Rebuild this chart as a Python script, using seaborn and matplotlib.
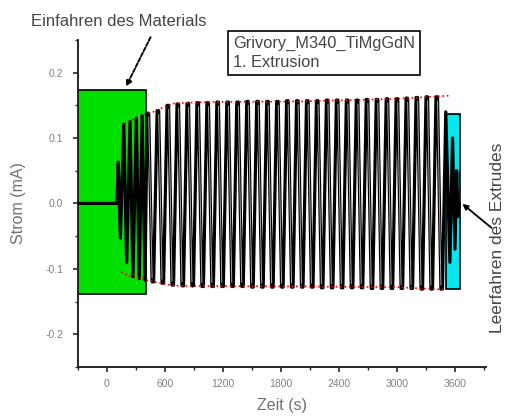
import numpy as np
import matplotlib
matplotlib.use('Agg')
import matplotlib.pyplot as plt
from matplotlib.patches import Rectangle
from matplotlib.ticker import MultipleLocator, FormatStrFormatter
import seaborn as sns

t_start = [-300, 105, 118, 140, 175, 205, 240, 270, 305, 335, 365, 395]
v_start = [0.0, 0.0, 0.063, -0.053, 0.121, -0.09, 0.125, -0.112, 0.131, -0.115, 0.134, -0.117]

t_peak = [425, 528, 631, 734, 837, 940, 1043, 1146, 1249, 1352, 1455, 1558, 1661, 1764, 1867,
          1970, 2073, 2176, 2279, 2382, 2485, 2588, 2691, 2794, 2897, 3000, 3103, 3206, 3309, 3412]
v_peak = [0.138, 0.142, 0.150, 0.152, 0.153, 0.154, 0.154, 0.155, 0.155, 0.155, 0.156, 0.156, 0.156, 0.156, 0.157,
          0.157, 0.157, 0.157, 0.158, 0.158, 0.158, 0.158, 0.159, 0.159, 0.160, 0.160, 0.161, 0.162, 0.163, 0.163]
t_trough = [476, 579, 682, 785, 888, 991, 1094, 1197, 1300, 1403, 1506, 1609, 1712, 1815, 1918,
            2021, 2124, 2227, 2330, 2433, 2536, 2639, 2742, 2845, 2948, 3051, 3154, 3257, 3360, 3463]
v_trough = [-0.120, -0.122, -0.125, -0.126, -0.126, -0.127, -0.127, -0.127, -0.127, -0.127, -0.128, -0.128, -0.128, -0.128, -0.128,
            -0.128, -0.128, -0.129, -0.129, -0.129, -0.129, -0.129, -0.130, -0.130, -0.130, -0.130, -0.130, -0.131, -0.131, -0.131]

# Leerfahren (Ausklingen)
t_end = [3505, 3548, 3575, 3600, 3618, 3632, 3645]
v_end = [0.14, -0.09, 0.10, -0.07, 0.05, -0.02, 0.0]

# Huellkurven (rot gepunktet)
t_env_top = [180, 270, 375, 480, 600, 700, 1000, 2000, 3000, 3350, 3560]
v_env_top = [0.122, 0.128, 0.136, 0.140, 0.148, 0.153, 0.155, 0.156, 0.160, 0.163, 0.165]
t_env_bot = [150, 250, 400, 550, 700, 2000, 3000, 3500]
v_env_bot = [-0.105, -0.112, -0.117, -0.122, -0.126, -0.127, -0.128, -0.132]

# Markierte Bereiche: (t0, t1, y0, y1)
green_box = (-300, 400, -0.138, 0.174)
cyan_box = (3505, 3650, -0.131, 0.137)

HOLD = 16  # Breite der Spitzen (Darstellung)

# Zeitreihe zusammensetzen
t_main, v_main = [], []
for tp, vp, tt, vt in zip(t_peak, v_peak, t_trough, v_trough):
    t_main += [tp - HOLD / 2, tp + HOLD / 2, tt - HOLD / 2, tt + HOLD / 2]
    v_main += [vp, vp, vt, vt]
t_all = np.array(t_start + t_main + t_end, dtype=float)
v_all = np.array(v_start + v_main + v_end, dtype=float)

# Abwaertsflanken fuer den grauen Kern
down_t, down_v = [], []
for i in range(len(t_all) - 1):
    if v_all[i] > 0.1 and v_all[i + 1] < -0.1 and t_all[i] > 400:
        down_t += [t_all[i], t_all[i + 1], np.nan]
        down_v += [v_all[i] - 0.006, v_all[i + 1] + 0.006, np.nan]

sns.set_style('ticks')
plt.rcParams['font.family'] = ['Liberation Sans', 'DejaVu Sans']
plt.rcParams['axes.unicode_minus'] = False

fig = plt.figure(figsize=(5.12, 4.16), dpi=100)
ax = fig.add_axes([0.152, 0.118, 0.797, 0.786])

ax.add_patch(Rectangle((green_box[0], green_box[2]), green_box[1] - green_box[0],
                       green_box[3] - green_box[2], facecolor='#00e000',
                       edgecolor='black', lw=1.2, zorder=1))
ax.add_patch(Rectangle((cyan_box[0], cyan_box[2]), cyan_box[1] - cyan_box[0],
                       cyan_box[3] - cyan_box[2], facecolor='#00e8f0',
                       edgecolor='black', lw=1.2, zorder=1))

sns.lineplot(x=t_all, y=v_all, ax=ax, color='black', lw=2.3,
             estimator=None, sort=False, zorder=3)
ax.plot(down_t, down_v, color='#a8a8a8', lw=0.7, zorder=4)

sns.lineplot(x=t_env_top, y=v_env_top, ax=ax, color='red', lw=1.2,
             linestyle=':', estimator=None, sort=False, zorder=5)
sns.lineplot(x=t_env_bot, y=v_env_bot, ax=ax, color='red', lw=1.2,
             linestyle=':', estimator=None, sort=False, zorder=5)

ax.set_xlim(-300, 3920)
ax.set_ylim(-0.25, 0.25)
ax.set_xticks([0, 600, 1200, 1800, 2400, 3000, 3600])
ax.xaxis.set_minor_locator(MultipleLocator(300))
ax.yaxis.set_major_locator(MultipleLocator(0.1))
ax.yaxis.set_minor_locator(MultipleLocator(0.05))
ax.yaxis.set_major_formatter(FormatStrFormatter('%.1f'))
ax.tick_params(which='major', direction='out', length=3.5, width=1.2,
               labelsize=7.5, labelcolor='#808080', pad=5)
ax.tick_params(axis='y', which='major', pad=7)
ax.tick_params(which='minor', direction='out', length=2.5, width=1.0)
sns.despine(ax=ax)
for s in ['left', 'bottom']:
    ax.spines[s].set_linewidth(1.4)

ax.set_xlabel('Zeit (s)', fontsize=11.5, color='#707070', labelpad=7)
ax.set_ylabel('Strom (mA)', fontsize=11.5, color='#707070', labelpad=14)

fig.text(119 / 512, 1 - 22 / 416, 'Einfahren des Materials', ha='center',
         va='center', fontsize=12, color='#454545')
ax.annotate('', xy=(186, 0.175), xytext=(465, 0.258), annotation_clip=False,
            arrowprops=dict(arrowstyle='-|>', color='black', lw=1.4,
                            linestyle=(0, (2, 1)), mutation_scale=8))

fig.text(233 / 512, 1 - 36 / 416, 'Grivory_M340_TiMgGdN\n1. Extrusion',
         ha='left', va='top', fontsize=11.8, color='#454545', linespacing=1.3,
         bbox=dict(boxstyle='square,pad=0.3', fc='white', ec='black', lw=1.2))

fig.text(497 / 512, 1 - 238 / 416, 'Leerfahren des Extrudes', ha='center',
         va='center', rotation=90, fontsize=12.5, color='#454545')
ax.annotate('', xy=(3655, 0.002), xytext=(4000, -0.04), annotation_clip=False,
            arrowprops=dict(arrowstyle='-|>', color='black', lw=1.3,
                            mutation_scale=8))

plt.savefig('out.png', dpi=100)
